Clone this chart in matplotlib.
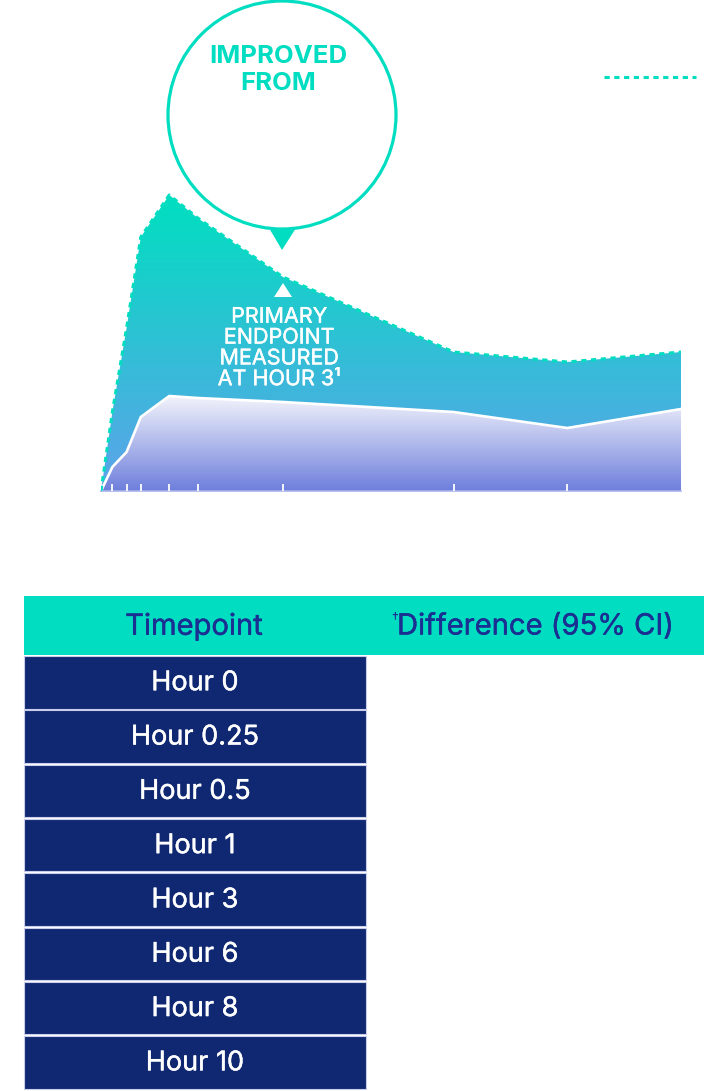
import numpy as np
import matplotlib.pyplot as plt
import matplotlib.patheffects as pe
from matplotlib.colors import LinearSegmentedColormap
from matplotlib.patches import Circle, Polygon, Rectangle
from matplotlib.lines import Line2D

plt.rcParams['font.family'] = ['Inter', 'DejaVu Sans']

# data (hours after dose, change from baseline, arbitrary units)
hours = [-0.2, 0, 0.25, 0.5, 1, 1.5, 3, 6, 8, 10]
active = [0, 79, 163, 254, 296, 273, 214, 139, 129, 139]
placebo = [0, 24, 39, 74, 95, 93, 89, 79, 63, 82]

timepoints = ["Hour 0", "Hour 0.25", "Hour 0.5", "Hour 1", "Hour 3",
              "Hour 6", "Hour 8", "Hour 10"]
col_headers = ["Timepoint", "Difference (95% CI)"]

TEAL = '#00DDC0'
NAVY = '#0F2871'
HEAD_TXT = '#1B2F92'

W, H = 705, 1091
fig = plt.figure(figsize=(W / 100, H / 100), dpi=100)

# chart axes (baseline at y=491 px, right edge at x=681 px)
x0, x1, ybase = 101, 681, 491
ax = fig.add_axes([x0 / W, (H - ybase) / H, (x1 - x0) / W, ybase / H])
ymax = 491


def gradient_fill(ax, x, y, c_top, c_bot, top, z):
    poly = ax.fill_between(x, 0, y, color='none', lw=0)
    cmap = LinearSegmentedColormap.from_list('g', [c_bot, c_top])
    grad = np.linspace(0, 1, 256).reshape(-1, 1)
    img = ax.imshow(grad, cmap=cmap, origin='lower', aspect='auto',
                    extent=[x[0], x[-1], 0, top], zorder=z)
    img.set_clip_path(poly.get_paths()[0], transform=ax.transData)


def medium(color):
    # thicken regular glyphs a little
    return [pe.withStroke(linewidth=0.3, foreground=color)]


gradient_fill(ax, hours, active, '#00DFC0', '#5EA2EA', max(active), 1)
gradient_fill(ax, hours, placebo, '#F2F3FB', '#6E7FDC', max(placebo), 2)
ax.plot(hours, placebo, color='white', lw=1.9, zorder=3, solid_joinstyle='round')
ax.plot(hours, active, color=TEAL, lw=2.2, ls=(0, (1.7, 1.5)), zorder=4,
        dash_capstyle='butt')

ax.set_xlim(hours[0], hours[-1])
ax.set_ylim(0, ymax)
ax.set_axisbelow(False)
for s in ['top', 'left', 'right']:
    ax.spines[s].set_visible(False)
ax.spines['bottom'].set_color('#A9B3EC')
ax.spines['bottom'].set_linewidth(1.2)
ax.set_xticks(hours[1:-1])
ax.set_yticks([])
ax.tick_params(axis='x', direction='in', length=5, width=1.3, color='white',
               labelbottom=False)
ax.patch.set_alpha(0)

# overlay in pixel coordinates for callouts and table
ov = fig.add_axes([0, 0, 1, 1], zorder=5)
ov.set_xlim(0, W)
ov.set_ylim(H, 0)
ov.axis('off')
ov.patch.set_alpha(0)

ov.add_patch(Circle((282, 115), 114, fill=False, ec=TEAL, lw=2.3))
ov.add_patch(Polygon([(269, 228), (296, 228), (282, 250)], closed=True,
                     fc=TEAL, ec='none'))
ov.text(278, 70, "IMPROVED\nFROM", ha='center', va='center', color=TEAL,
        fontsize=18.5, fontweight='bold', linespacing=1.2)

ov.add_patch(Polygon([(274, 297), (292, 297), (283, 283)], closed=True,
                     fc='white', ec='none'))
ov.text(279, 348, "PRIMARY\nENDPOINT\nMEASURED\nAT HOUR 3\u00b9", ha='center',
        va='center', color='white', fontsize=15.5, linespacing=1.05,
        path_effects=medium('white'))

# legend-style dotted line
ov.add_line(Line2D([604, 696], [77, 77], color=TEAL, lw=2.2,
                   ls=(0, (1.7, 1.5)), dash_capstyle='butt'))

# table
ov.add_patch(Rectangle((24, 596), 680, 59, fc=TEAL, ec='none'))
ov.text(194, 627, col_headers[0], ha='center', va='center', color=HEAD_TXT,
        fontsize=21, path_effects=medium(HEAD_TXT))
ov.text(397, 627, col_headers[1], ha='left', va='center', color=HEAD_TXT,
        fontsize=21, path_effects=medium(HEAD_TXT))
ov.text(391, 619, "\u2020", ha='left', va='center', color=HEAD_TXT, fontsize=10)

row_top, pitch, row_h = 656, 54.3, 52.5
for i, label in enumerate(timepoints):
    y = row_top + i * pitch
    ov.add_patch(Rectangle((24, y), 342, row_h, fc=NAVY, ec='#C9CDEB', lw=0.8))
    ov.text(195, y + row_h / 2 + 1, label, ha='center', va='center',
            color='white', fontsize=19.5, path_effects=medium('white'))

fig.savefig('out.png', dpi=100)
